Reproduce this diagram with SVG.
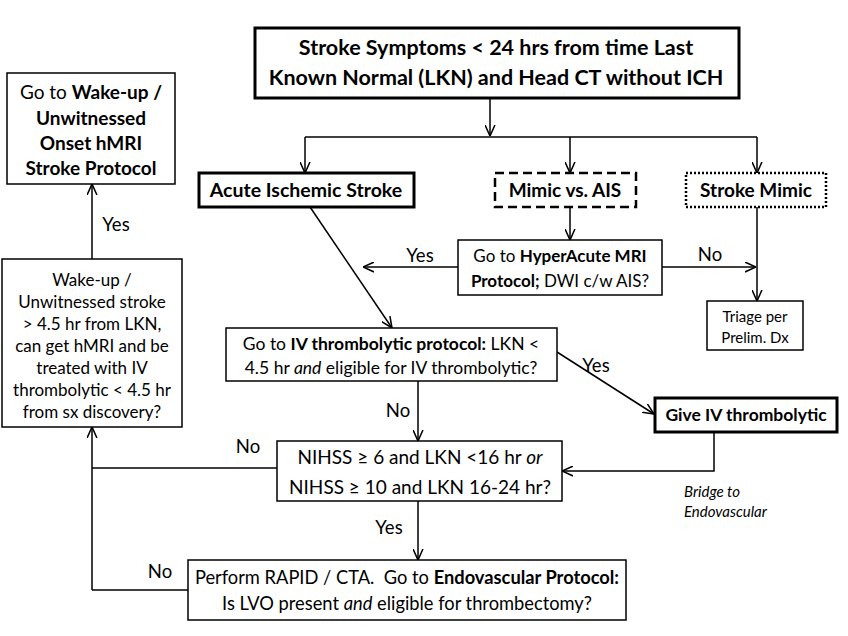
<svg xmlns="http://www.w3.org/2000/svg" width="848" height="636" viewBox="0 0 848 636">
<defs>
<marker id="ah" viewBox="0 0 10 10" refX="10" refY="5" markerWidth="11" markerHeight="11" markerUnits="userSpaceOnUse" orient="auto">
<path d="M0,0.5 L10,5 L0,9.5" fill="none" stroke="#000" stroke-width="1.4"/>
</marker>
</defs>
<style>
text{font-family:Lato,"Liberation Sans",sans-serif;fill:#000;text-anchor:middle}
.b{font-weight:bold}
.i{font-style:italic}
.box{fill:#fff;stroke:#000;stroke-width:1.5}
.thick{fill:#fff;stroke:#000;stroke-width:3}
.dash{fill:#fff;stroke:#000;stroke-width:2.5;stroke-dasharray:9,5}
.dot{fill:#fff;stroke:#000;stroke-width:2.5;stroke-dasharray:2,2}
.c{fill:none;stroke:#000;stroke-width:1.5}
.a{marker-end:url(#ah)}
.lbl{font-size:18.5px}
</style>
<rect width="848" height="636" fill="#fff"/>
<g id="connectors">
<path class="c a" d="M490,98 V136"/>
<path class="c" d="M305,137 H757"/>
<path class="c a" d="M305,137 V173"/>
<path class="c a" d="M570,137 V173"/>
<path class="c a" d="M757,137 V173"/>
<path class="c a" d="M570,207 V240"/>
<path class="c a" d="M458,267 H363"/>
<path class="c a" d="M662,267 H756"/>
<path class="c a" d="M757,207 V301"/>
<path class="c a" d="M310,207 L392,328"/>
<path class="c a" d="M557,352 L654,414"/>
<path class="c a" d="M418,381 V441"/>
<path class="c a" d="M714,432 V471 H562"/>
<path class="c" d="M277,468 H92"/>
<path class="c a" d="M92,590 V427"/>
<path class="c a" d="M418,501 V560"/>
<path class="c" d="M188,590 H92"/>
<path class="c a" d="M92,259 V184"/>
<text class="lbl" x="420" y="262">Yes</text>
<text class="lbl" x="710" y="261">No</text>
<text class="lbl" x="596" y="372">Yes</text>
<text class="lbl" x="398" y="417">No</text>
<text class="lbl" x="248" y="453">No</text>
<text class="lbl" x="389" y="534">Yes</text>
<text class="lbl" x="160" y="578">No</text>
<text class="lbl" x="116" y="231">Yes</text>
<text class="i" x="684" y="497" style="font-size:15px;text-anchor:start">Bridge to</text>
<text class="i" x="684" y="517" style="font-size:15px;text-anchor:start">Endovascular</text>
</g>
<g id="top">
<rect class="thick" x="255" y="28" width="484" height="70"/>
<text class="b" x="496" y="55" style="font-size:21.5px">Stroke Symptoms &lt; 24 hrs from time Last</text>
<text class="b" x="496" y="85" style="font-size:21.5px">Known Normal (LKN) and Head CT without ICH</text>
</g>
<g id="wakeup-protocol">
<rect class="box" x="7" y="73" width="168" height="111"/>
<text x="91" y="99" style="font-size:19px">Go to <tspan class="b">Wake-up /</tspan></text>
<text class="b" x="91" y="125" style="font-size:19px">Unwitnessed</text>
<text class="b" x="91" y="150" style="font-size:19px">Onset hMRI</text>
<text class="b" x="91" y="175" style="font-size:19px">Stroke Protocol</text>
</g>
<g id="ais">
<rect class="thick" x="199" y="173" width="215" height="34"/>
<text class="b" x="306" y="197" style="font-size:19.5px">Acute Ischemic Stroke</text>
</g>
<g id="mimic-vs-ais">
<rect class="dash" x="495" y="173" width="141" height="34"/>
<text class="b" x="565" y="197" style="font-size:19px">Mimic vs. AIS</text>
</g>
<g id="stroke-mimic">
<rect class="dot" x="686" y="173" width="140" height="34"/>
<text class="b" x="756" y="197" style="font-size:19px">Stroke Mimic</text>
</g>
<g id="hyperacute">
<rect class="box" x="458" y="240" width="204" height="55"/>
<text x="560" y="262" style="font-size:17px">Go to <tspan class="b">HyperAcute MRI</tspan></text>
<text x="560" y="287" style="font-size:17px"><tspan class="b">Protocol;</tspan> DWI c/w AIS?</text>
</g>
<g id="triage">
<rect class="box" x="707" y="301" width="96" height="49"/>
<text x="755" y="322" style="font-size:15px">Triage per</text>
<text x="755" y="343" style="font-size:15px">Prelim. Dx</text>
</g>
<g id="iv-protocol">
<rect class="box" x="226" y="328" width="331" height="53"/>
<text x="391" y="350" style="font-size:17.5px">Go to <tspan class="b">IV thrombolytic protocol:</tspan> LKN &lt;</text>
<text x="391" y="374" style="font-size:17.5px">4.5 hr <tspan class="i">and</tspan> eligible for IV thrombolytic?</text>
</g>
<g id="give-iv">
<rect class="thick" x="655" y="398" width="182" height="34"/>
<text class="b" x="746" y="421" style="font-size:17.5px">Give IV thrombolytic</text>
</g>
<g id="nihss">
<rect class="box" x="277" y="441" width="285" height="60"/>
<text x="420" y="464" style="font-size:19px">NIHSS ≥ 6 and LKN &lt;16 hr <tspan class="i">or</tspan></text>
<text x="420" y="494" style="font-size:19px">NIHSS ≥ 10 and LKN 16-24 hr?</text>
</g>
<g id="wakeup-question">
<rect class="box" x="2" y="259" width="180" height="168"/>
<text x="92" y="286" style="font-size:17px">Wake-up /</text>
<text x="92" y="308" style="font-size:17px">Unwitnessed stroke</text>
<text x="92" y="330" style="font-size:17px">&gt; 4.5 hr from LKN,</text>
<text x="92" y="352" style="font-size:17px">can get hMRI and be</text>
<text x="92" y="374" style="font-size:17px">treated with IV</text>
<text x="92" y="396" style="font-size:17px">thrombolytic &lt; 4.5 hr</text>
<text x="92" y="418" style="font-size:17px">from sx discovery?</text>
</g>
<g id="endovascular">
<rect class="box" x="188" y="560" width="438" height="60"/>
<text x="407" y="584" style="font-size:18.3px" xml:space="preserve">Perform RAPID / CTA.  Go to <tspan class="b">Endovascular Protocol:</tspan></text>
<text x="407" y="610" style="font-size:18.3px">Is LVO present <tspan class="i">and</tspan> eligible for thrombectomy?</text>
</g>
</svg>
